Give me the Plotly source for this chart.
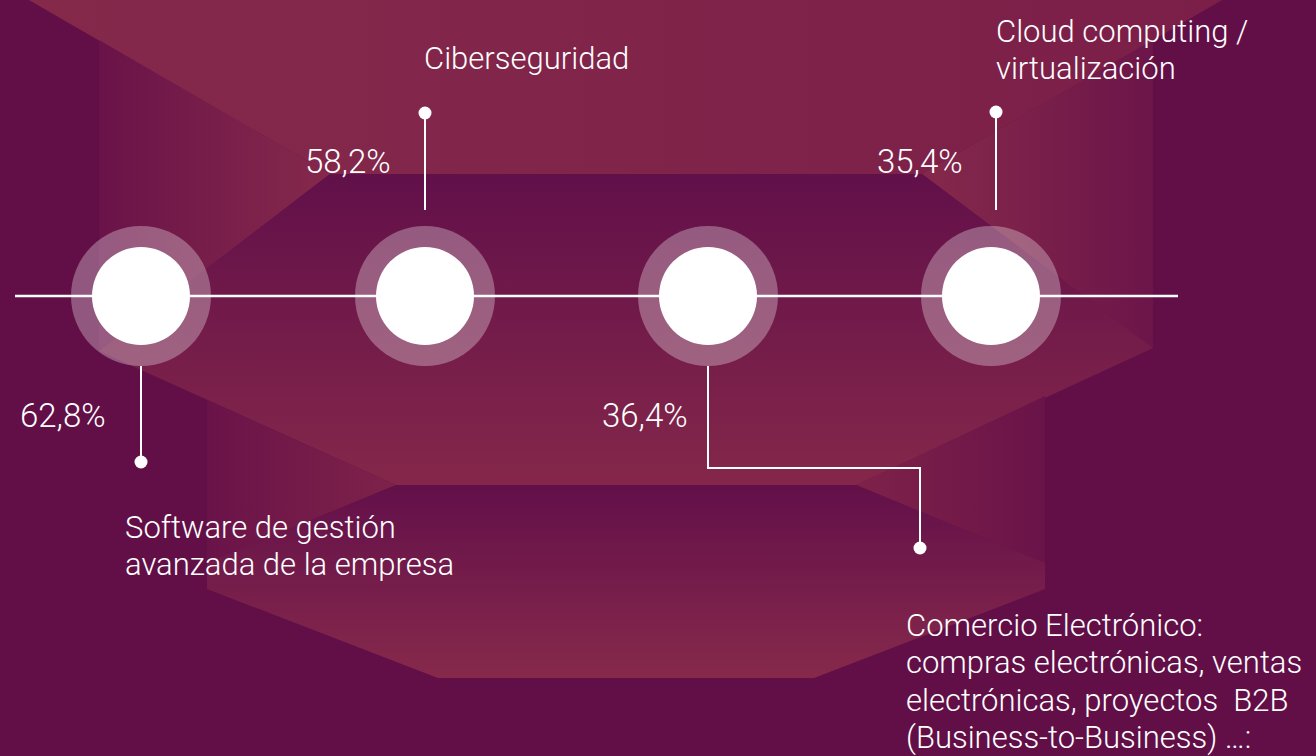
import plotly.graph_objects as go

# ---------------- data ----------------
categories = [
    "Software de gestión<br>avanzada de la empresa",
    "Ciberseguridad",
    "Comercio Electrónico:<br>compras electrónicas, ventas<br>electrónicas, proyectos\u00a0 B2B<br>(Business-to-Business) …:",
    "Cloud computing /<br>virtualización",
]
values = [62.8, 58.2, 36.4, 35.4]

# ---------------- layout constants ----------------
W, H = 1316, 756
BASE = "#620F48"
FONT = "Roboto"
FONT_W = 300
FONT_S = 31
VAL_S = 33
LINE_H = 37.5
node_x = [141, 425, 708, 991]
node_y = 296
ring_r, core_r = 70, 49

fig = go.Figure()

# background geometric panels (decoration)
panels = [
    dict(x=[29, 1222, 922, 330], y=[0, 0, 174, 174], g="horizontal", c=["#85294B", "#7B1F49"], s=29, e=1222),
    dict(x=[99, 330, 99], y=[40, 174, 351], g="horizontal", c=["#6A1349", "#85294B"], s=99, e=330),
    dict(x=[1153, 922, 1153], y=[40, 174, 348], g="horizontal", c=["#85294B", "#6C1549"], s=922, e=1153),
    dict(x=[330, 922, 1153, 856, 396, 99], y=[174, 174, 348, 485, 485, 351], g="vertical", c=["#62104A", "#84274A"], s=174, e=485),
    dict(x=[207, 396, 207], y=[400, 485, 563], g="horizontal", c=["#6A1349", "#7E2249"], s=207, e=396),
    dict(x=[1045, 856, 1045], y=[396, 485, 563], g="horizontal", c=["#7E2249", "#6A1349"], s=856, e=1045),
    dict(x=[396, 856, 1045, 1045, 814, 438, 207, 207], y=[485, 485, 563, 589, 678, 678, 589, 563],
         g="vertical", c=["#63104A", "#86294B"], s=485, e=678),
]
for p in panels:
    fig.add_trace(go.Scatter(
        x=p["x"] + [p["x"][0]], y=p["y"] + [p["y"][0]], mode="lines", line=dict(width=0),
        fill="toself",
        fillgradient=dict(type=p["g"], colorscale=[[0, p["c"][0]], [1, p["c"][1]]], start=p["s"], stop=p["e"]),
        hoverinfo="skip", showlegend=False))

# rings
fig.add_trace(go.Scatter(x=node_x, y=[node_y] * len(values), mode="markers",
                         marker=dict(size=2 * ring_r, color="rgba(255,255,255,0.30)", line=dict(width=0)),
                         hoverinfo="skip", showlegend=False))
# main line
fig.add_trace(go.Scatter(x=[15, 1178], y=[node_y, node_y], mode="lines",
                         line=dict(color="white", width=2.5), hoverinfo="skip", showlegend=False))
# white cores
fig.add_trace(go.Scatter(x=node_x, y=[node_y] * len(values), mode="markers",
                         marker=dict(size=2 * core_r, color="white", line=dict(width=0)),
                         customdata=values, hovertemplate="%{customdata}%<extra></extra>", showlegend=False))

# connectors (layout paths per node)
connectors = [
    ([141, 141], [366, 462]),
    ([425, 425], [210, 113]),
    ([708, 708, 920, 920], [366, 468, 468, 548]),
    ([996, 996], [210, 112]),
]
for cx, cy in connectors:
    fig.add_trace(go.Scatter(x=cx, y=cy, mode="lines", line=dict(color="white", width=2),
                             hoverinfo="skip", showlegend=False))
    fig.add_trace(go.Scatter(x=[cx[-1]], y=[cy[-1]], mode="markers",
                             marker=dict(size=13, color="white", line=dict(width=0)),
                             hoverinfo="skip", showlegend=False))

# value labels
value_pos = [(108, 415), (393, 161), (690, 415), (965, 161)]
for v, (vx, vy) in zip(values, value_pos):
    fig.add_annotation(x=vx, y=vy, text=f"{v:.1f}%".replace(".", ","), showarrow=False,
                       xanchor="right", yanchor="middle",
                       font=dict(family=FONT, size=VAL_S, color="white", weight=FONT_W))

# category labels (one annotation per line for tighter leading)
cat_pos = [(123, 527), (422, 58), (904, 625), (994, 31)]
for c, (tx, ty) in zip(categories, cat_pos):
    for i, line in enumerate(c.split("<br>")):
        fig.add_annotation(x=tx, y=ty + i * LINE_H, text=line, showarrow=False,
                           xanchor="left", yanchor="middle", align="left",
                           font=dict(family=FONT, size=FONT_S, color="white", weight=FONT_W))

fig.update_xaxes(range=[0, W], visible=False, fixedrange=True)
fig.update_yaxes(range=[H, 0], visible=False, fixedrange=True)
fig.update_layout(width=W, height=H, autosize=False, margin=dict(l=0, r=0, t=0, b=0, pad=0),
                  paper_bgcolor=BASE, plot_bgcolor=BASE, showlegend=False)

fig.write_html("out.html")
